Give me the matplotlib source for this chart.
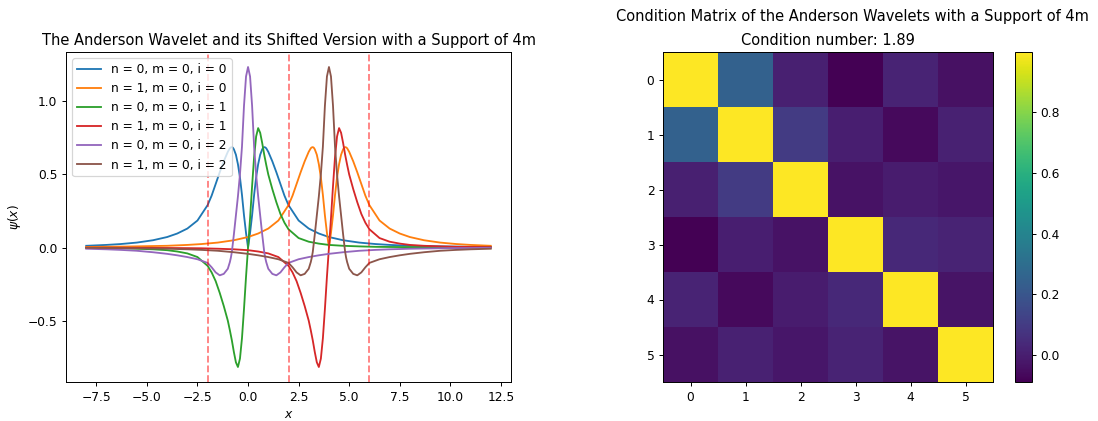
import numpy as np
import matplotlib
matplotlib.use("Agg")
import matplotlib.pyplot as plt

# ---- data ----
# half-profile offsets (x >= 0) of the base wavelets
u = [0.0, 0.1, 0.2, 0.3, 0.4, 0.5, 0.6, 0.7, 0.75, 0.8, 0.85, 0.9, 1.0, 1.2, 1.4,
     1.6, 1.8, 2.0, 2.5, 3.0, 3.5, 4.0, 4.7, 5.5, 6.3, 7.0, 8.0, 10.0, 12.0]
# i = 0 (symmetric)
psi0 = [0.0, 0.10, 0.22, 0.36, 0.48, 0.57, 0.635, 0.672, 0.683, 0.687, 0.685, 0.679,
        0.655, 0.59, 0.515, 0.435, 0.355, 0.29, 0.185, 0.13, 0.096, 0.072, 0.05,
        0.034, 0.024, 0.018, 0.012, 0.007, 0.004]
# i = 1 (antisymmetric)
psi1 = [0.0, 0.20, 0.42, 0.62, 0.76, 0.817, 0.785, 0.715, 0.675, 0.635, 0.6, 0.565,
        0.50, 0.40, 0.31, 0.23, 0.17, 0.125, 0.065, 0.04, 0.027, 0.018, 0.012,
        0.008, 0.005, 0.004, 0.003, 0.0015, 0.001]
# i = 2 (symmetric)
psi2 = [1.235, 1.17, 0.97, 0.69, 0.50, 0.35, 0.22, 0.09, 0.03, -0.03, -0.07, -0.10,
        -0.145, -0.18, -0.19, -0.17, -0.135, -0.105, -0.08, -0.065, -0.053, -0.043,
        -0.032, -0.022, -0.016, -0.012, -0.008, -0.004, -0.002]
support = 4.0
x_min, x_max = -8.0, 12.0
boundaries = [-2.0, 2.0, 6.0]

labels = ["n = 0, m = 0, i = 0", "n = 1, m = 0, i = 0",
          "n = 0, m = 0, i = 1", "n = 1, m = 0, i = 1",
          "n = 0, m = 0, i = 2", "n = 1, m = 0, i = 2"]

ticks = [0, 1, 2, 3, 4, 5]
gram = [
    [0.998, 0.250, 0.008, -0.089, 0.020, -0.040],
    [0.250, 0.998, 0.100, 0.003, -0.063, 0.010],
    [0.008, 0.100, 0.998, -0.035, -0.008, -0.025],
    [-0.089, 0.003, -0.035, 0.998, 0.035, 0.020],
    [0.020, -0.063, -0.008, 0.035, 0.998, -0.030],
    [-0.040, 0.010, -0.025, 0.020, -0.030, 0.998],
]
cond_number = 1.89

# ---- build full profiles ----
u_arr = np.array(u)
xs = np.concatenate([-u_arr[::-1], u_arr[1:]])
def sym(v):
    v = np.array(v)
    return np.concatenate([v[::-1], v[1:]])
def asym(v):
    v = np.array(v)
    return np.concatenate([-v[::-1], v[1:]])
bases = [sym(psi0), asym(psi1), sym(psi2)]

W, H = 1098, 421
DPI = 88
fig = plt.figure(figsize=(W / DPI, H / DPI), dpi=DPI)
ax1 = fig.add_axes([66 / W, 39 / H, 445 / W, 330 / H])
ax2 = fig.add_axes([662.7 / W, 39 / H, 330.6 / W, 330 / H])
cax = fig.add_axes([1015 / W, 39 / H, 16.7 / W, 330 / H])

k = 0
for i, base in enumerate(bases):
    for n in (0, 1):
        xx = xs + n * support
        m = (xx >= x_min - 1e-9) & (xx <= x_max + 1e-9)
        ax1.plot(xx[m], base[m], label=labels[k], color=f"C{k}")
        k += 1
for b in boundaries:
    ax1.axvline(b, color="red", linestyle="--", alpha=0.5)
ax1.set_title("The Anderson Wavelet and its Shifted Version with a Support of 4m")
ax1.set_xlabel("$x$")
ax1.set_ylabel(r"$\psi(x)$")
ax1.legend(loc="upper left")

im = ax2.imshow(np.array(gram), cmap="viridis")
ax2.set_xticks(ticks)
ax2.set_yticks(ticks)
ax2.set_title(f"Condition number: {cond_number:.2f}")
fig.text(852 / W, 1 - 17 / H,
         "Condition Matrix of the Anderson Wavelets with a Support of 4m",
         ha="center", va="center", fontsize=12)
fig.colorbar(im, cax=cax)

fig.savefig("out.png", dpi=DPI)
